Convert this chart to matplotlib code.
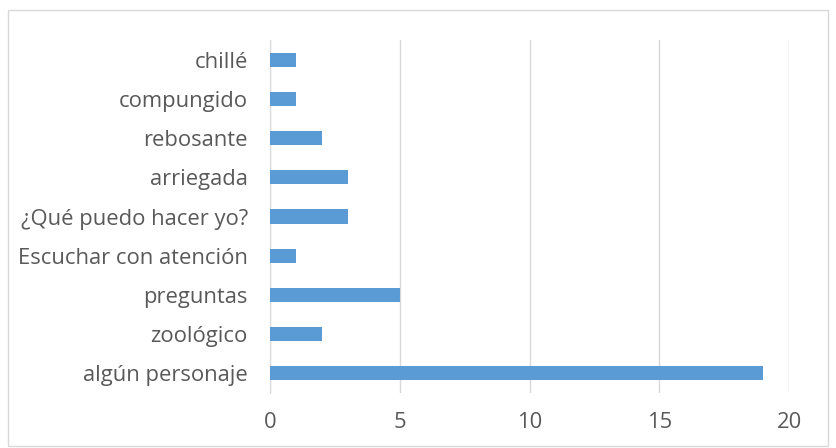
import matplotlib.pyplot as plt
from matplotlib.patches import Rectangle

# word counts, listed bottom to top
words = ['algún personaje', 'zoológico', 'preguntas', 'Escuchar con atención',
         '¿Qué puedo hacer yo?', 'arriegada', 'rebosante', 'compungido', 'chillé']
counts = [19, 2, 5, 1, 3, 3, 2, 1, 1]
xticks = [0, 5, 10, 15, 20]

plt.rcParams['font.family'] = ['Open Sans', 'DejaVu Sans']
text_color = '#595959'

fig = plt.figure(figsize=(8.36, 4.48), dpi=100)
ax = fig.add_axes([270 / 836, 1 - 393 / 448, (789 - 270) / 836, (393 - 40) / 448])

ax.barh(range(len(words)), counts, height=0.36, color='#5b9bd5', zorder=3)

ax.set_xlim(0, 20)
ax.set_ylim(-0.5, len(words) - 0.5)
ax.set_xticks(xticks)
ax.set_xticklabels([str(t) for t in xticks])
ax.set_yticks(range(len(words)))
ax.set_yticklabels(words)
ax.tick_params(axis='x', length=0, pad=14, labelsize=15.8, labelcolor=text_color)
ax.tick_params(axis='y', length=0, pad=16, labelsize=15.8, labelcolor=text_color)

ax.grid(axis='x', color='#d9d9d9', linewidth=1, zorder=0)
for side in ['top', 'right', 'bottom']:
    ax.spines[side].set_visible(False)
ax.spines['left'].set_color('#d9d9d9')
ax.spines['left'].set_zorder(1)

# light frame around the whole chart
fig.patches.append(Rectangle((8 / 836, 2 / 448), 820 / 836, 436 / 448,
                             transform=fig.transFigure, fill=False,
                             edgecolor='#d9d9d9', linewidth=1))

fig.savefig('out.png', dpi=100)
